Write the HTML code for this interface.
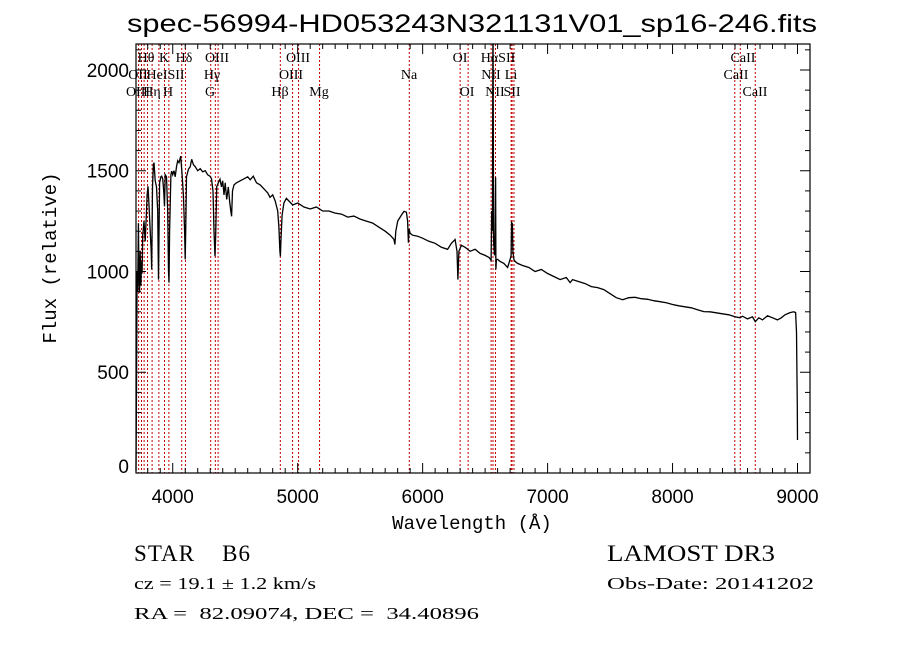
<!DOCTYPE html>
<html><head><meta charset="utf-8"><style>
body{margin:0;background:#fff}
svg text{font-family:"Liberation Serif",serif;fill:#000;white-space:pre}
</style></head><body>
<svg width="900" height="649" viewBox="0 0 900 649" xmlns="http://www.w3.org/2000/svg">
<g id="lines"></g>
<g id="spec"></g>
<g id="axes"></g>
<text x="127" y="32" font-size="25" textLength="690" lengthAdjust="spacingAndGlyphs" xml:space="preserve" style="font-family:'Liberation Sans',sans-serif">spec-56994-HD053243N321131V01_sp16-246.fits</text>
<text x="472" y="529" font-size="19" text-anchor="middle" style="font-family:'Liberation Mono',monospace">Wavelength (Å)</text>
<text transform="translate(56,258) rotate(-90)" font-size="19" text-anchor="middle" style="font-family:'Liberation Mono',monospace">Flux (relative)</text>
<text x="134" y="561" font-size="23" textLength="116" lengthAdjust="spacing" xml:space="preserve">STAR    B6</text>
<text x="607" y="561" font-size="23" textLength="168" lengthAdjust="spacingAndGlyphs">LAMOST DR3</text>
<text x="134" y="589" font-size="17" textLength="182" lengthAdjust="spacingAndGlyphs" xml:space="preserve">cz = 19.1 ± 1.2 km/s</text>
<text x="607" y="589" font-size="17" textLength="207" lengthAdjust="spacingAndGlyphs">Obs-Date: 20141202</text>
<text x="134" y="619" font-size="17" textLength="345" lengthAdjust="spacingAndGlyphs" xml:space="preserve">RA =  82.09074, DEC =  34.40896</text>
</svg>
<script>
const waves=[3706,3710,3715,3720,3725,3730,3735,3740,3745,3750,3755,3760,3770,3780,3790,3795,3802,3810,3820,3828,3832,3838,3845,3850,3860,3870,3880,3886,3890,3895,3905,3912,3920,3928,3934,3940,3950,3960,3966,3970,3975,3985,3992,4000,4010,4020,4030,4040,4050,4064,4075,4085,4095,4100,4104,4110,4125,4140,4152,4165,4180,4200,4220,4240,4260,4280,4298,4310,4322,4330,4338,4344,4352,4365,4378,4390,4400,4410,4420,4432,4445,4455,4465,4471,4478,4490,4510,4540,4570,4600,4620,4645,4670,4700,4730,4760,4778,4800,4820,4840,4850,4858,4862,4866,4875,4890,4910,4930,4960,5000,5050,5100,5150,5200,5250,5300,5350,5400,5450,5500,5550,5600,5650,5700,5740,5770,5778,5785,5800,5830,5850,5870,5880,5886,5892,5900,5920,5960,6000,6050,6100,6150,6200,6230,6260,6275,6282,6290,6310,6340,6380,6420,6460,6500,6530,6545,6548,6553,6558,6562,6564,6568,6575,6580,6584,6586,6590,6600,6620,6650,6680,6700,6708,6712,6714,6718,6722,6730,6740,6760,6800,6850,6900,6950,7000,7050,7100,7150,7180,7200,7250,7300,7350,7400,7450,7500,7550,7600,7650,7700,7750,7800,7850,7900,7950,8000,8050,8100,8150,8200,8250,8300,8350,8400,8450,8500,8540,8560,8600,8640,8662,8690,8720,8760,8800,8840,8870,8900,8940,8970,8985,8992,8998,9000];
const flux=[10,420,1000,900,1240,960,895,1100,930,1050,990,1180,1250,1150,1300,1380,1423,1330,1200,1100,1010,1420,1532,1540,1450,1420,1300,960,1180,1440,1470,1473,1460,1400,1323,1480,1470,1300,1000,945,1200,1480,1498,1480,1500,1470,1520,1550,1540,1572,1480,1380,1200,1060,1200,1470,1507,1520,1557,1530,1520,1500,1510,1495,1500,1480,1473,1460,1400,1200,1075,1180,1420,1440,1458,1420,1450,1380,1440,1358,1420,1350,1300,1274,1400,1430,1440,1450,1460,1470,1455,1473,1440,1430,1410,1390,1368,1380,1350,1300,1220,1100,1075,1150,1280,1340,1363,1350,1330,1340,1320,1310,1320,1300,1300,1290,1285,1270,1275,1260,1250,1240,1220,1200,1180,1160,1134,1200,1250,1280,1298,1295,1250,1143,1210,1190,1180,1175,1165,1150,1140,1120,1110,1140,1159,1100,960,1100,1130,1120,1100,1110,1090,1080,1070,1060,1050,1300,1200,2200,2200,1150,1080,1200,1468,1010,1060,1060,1050,1040,1020,1060,1080,1249,1180,1240,1100,1060,1050,1040,1030,1020,1000,1010,990,975,960,970,945,960,950,940,925,920,910,890,870,860,870,872,865,862,855,850,845,836,830,825,820,810,801,800,795,790,785,775,770,778,765,775,751,770,760,780,770,760,770,785,796,800,796,700,330,164];
const lineW=[3727,3750,3771,3798,3835,3889,3934,3969,4072,4102,4304,4341,4363,4861,4959,5007,5175,5893,6300,6364,6548,6563,6583,6708,6716,6731,8498,8542,8662];
const labels=[["Hθ",146,62],["K",164,62],["Hδ",184,62],["OIII",217,62],["OIII",298,62],["OI",460,62],["HαSII",498,62],["CaII",743,62],
["OII",138,79],["HeI",157,79],["SII",176,79],["Hγ",212,79],["OIII",291,79],["Na",409,79],["NII",491,79],["Li",511,79],["CaII",736,79],
["OIII",138,96],["Hη",152,96],["H",168,96],["G",210,96],["Hβ",280,96],["Mg",319,96],["OI",467,96],["NII",495,96],["SII",512,96],["CaII",755,96]];
const xTicks=[4000,5000,6000,7000,8000,9000];
const yTicks=[0,500,1000,1500,2000];
const L=136,R=810,T=44,B=473,X0=3706,X1=9100,Y0=0,Y1=2129;
const sx=w=>L+(w-X0)/(X1-X0)*(R-L);
const sy=f=>B-(f-Y0)/(Y1-Y0)*(B-T);
const NS="http://www.w3.org/2000/svg";
function mk(t,a,p){const e=document.createElementNS(NS,t);for(const k in a)e.setAttribute(k,a[k]);p.appendChild(e);return e;}
const gl=document.getElementById('lines');
lineW.forEach(w=>{const l=mk('line',{x1:sx(w),x2:sx(w),y1:T,y2:B,stroke:'#c00000','stroke-width':1,'stroke-dasharray':'2,2'},gl);

});
labels.forEach(([t,x,y])=>{const e=mk('text',{x:x,y:y,'font-size':14,'text-anchor':'middle'},gl);e.textContent=t;

});
const gs=document.getElementById('spec');
let d='';waves.forEach((w,i)=>{d+=(i?'L':'M')+sx(w).toFixed(1)+','+Math.max(T,sy(flux[i])).toFixed(1);});
const p=mk('path',{d:d,fill:'none',stroke:'#000','stroke-width':1.3},gs);


const ga=document.getElementById('axes');
const fr=mk('rect',{x:L,y:T,width:R-L,height:B-T,fill:'none',stroke:'#000','stroke-width':1.2},ga);


for(let w=3800;w<=9100;w+=100){const x=sx(w),big=w%1000===0,len=big?10:5;
mk('line',{x1:x,x2:x,y1:B,y2:B-len,stroke:'#000'},ga);mk('line',{x1:x,x2:x,y1:T,y2:T+len,stroke:'#000'},ga);}
for(let f=0;f<=2100;f+=100){const y=sy(f),big=f%500===0,len=big?10:5;
mk('line',{x1:L,x2:L+len,y1:y,y2:y,stroke:'#000'},ga);mk('line',{x1:R,x2:R-len,y1:y,y2:y,stroke:'#000'},ga);}
xTicks.forEach(w=>{const e=mk('text',{x:sx(w),y:503,'font-size':19,'text-anchor':'middle',style:"font-family:'Liberation Sans',sans-serif"},ga);e.textContent=w;

});
yTicks.forEach(f=>{const e=mk('text',{x:L-7,y:Math.min(sy(f)+7,473),'font-size':19,'text-anchor':'end',style:"font-family:'Liberation Sans',sans-serif"},ga);e.textContent=f;

});
</script>
</body></html>
